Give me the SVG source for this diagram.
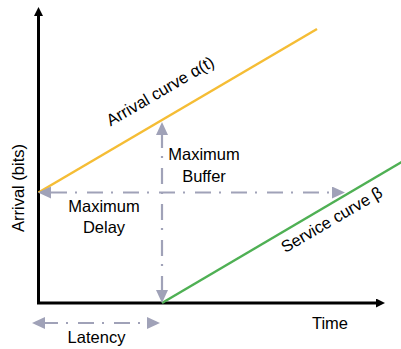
<svg xmlns="http://www.w3.org/2000/svg" width="401" height="349" viewBox="0 0 401 349">
  <style>
    text { font-family: "Liberation Sans", Arial, sans-serif; font-size: 16.5px; fill: #000; }
    .mid { text-anchor: middle; }
    .axis { stroke: #000; stroke-width: 3; fill: none; }
    .dim { stroke: #A0A2B8; stroke-width: 2.2; fill: none; stroke-dasharray: 16 8 2 10; }
    .arrival { stroke: #F5BD35; stroke-width: 2.5; fill: none; }
    .service { stroke: #4FB054; stroke-width: 2.5; fill: none; }
  </style>
  <defs>
    <marker id="axisHead" viewBox="0 0 9 9" markerUnits="userSpaceOnUse" markerWidth="9" markerHeight="9" refX="2" refY="4.5" orient="auto-start-reverse">
      <path d="M0,0 L9,4.5 L0,9 z" fill="#000"/>
    </marker>
    <marker id="dimHead" viewBox="0 0 13 12" markerUnits="userSpaceOnUse" markerWidth="13" markerHeight="12" refX="3" refY="6" orient="auto-start-reverse">
      <path d="M0,0 L13,6 L0,12 z" fill="#A0A2B8"/>
    </marker>
  </defs>
  <rect width="401" height="349" fill="#fff"/>

  <g id="axes">
    <path class="axis" d="M38.5,14 V303 H378" marker-start="url(#axisHead)" marker-end="url(#axisHead)"/>
    <text class="mid" transform="translate(23.5,188) rotate(-90)">Arrival (bits)</text>
    <text class="mid" x="330" y="329">Time</text>
  </g>

  <g id="arrival-curve">
    <line class="arrival" x1="38.5" y1="192.5" x2="317" y2="29"/>
    <text class="mid" transform="translate(163,96) rotate(-30.3)">Arrival curve α(t)</text>
  </g>

  <g id="service-curve">
    <line class="service" x1="162" y1="303" x2="405" y2="160"/>
    <text class="mid" transform="translate(334.5,224.5) rotate(-30.3)">Service curve β</text>
  </g>

  <g id="connectors">
    <line class="dim" x1="162" y1="132" x2="162" y2="293" marker-start="url(#dimHead)" marker-end="url(#dimHead)"/>
    <line class="dim" x1="48" y1="192.5" x2="335" y2="192.5" stroke-dashoffset="33" marker-start="url(#dimHead)" marker-end="url(#dimHead)"/>
    <line class="dim" x1="42" y1="323" x2="150" y2="323" marker-start="url(#dimHead)" marker-end="url(#dimHead)"/>
  </g>

  <g id="max-buffer">
    <text class="mid" x="204" y="160">Maximum</text>
    <text class="mid" x="204" y="182">Buffer</text>
  </g>

  <g id="max-delay">
    <text class="mid" x="104" y="212">Maximum</text>
    <text class="mid" x="104" y="233">Delay</text>
  </g>

  <g id="latency">
    <text class="mid" x="96.5" y="343">Latency</text>
  </g>
</svg>
